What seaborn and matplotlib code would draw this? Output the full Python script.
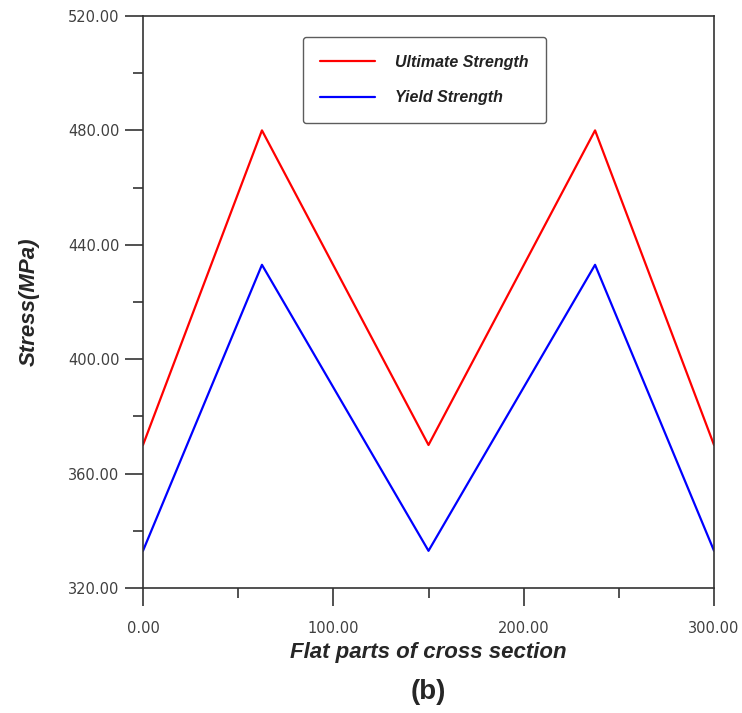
import matplotlib
matplotlib.use("Agg")
import matplotlib.pyplot as plt
from matplotlib.ticker import MultipleLocator, FormatStrFormatter
import pandas as pd
import seaborn as sns

# Positions along the cross section and the stresses measured there
position = [0.0, 62.5, 150.0, 237.5, 300.0]
ultimate_strength = [370.0, 480.0, 370.0, 480.0, 370.0]
yield_strength = [333.0, 433.0, 333.0, 433.0, 333.0]
series_names = ["Ultimate Strength", "Yield Strength"]

df = pd.concat([
    pd.DataFrame({"x": position, "stress": ultimate_strength, "series": series_names[0]}),
    pd.DataFrame({"x": position, "stress": yield_strength, "series": series_names[1]}),
], ignore_index=True)

sns.set_style("white")
plt.rcParams["font.family"] = ["Liberation Sans", "DejaVu Sans"]

fig = plt.figure(figsize=(7.42, 7.13), dpi=100)
ax = fig.add_axes([0.1927, 0.1753, 0.7696, 0.8023])

sns.lineplot(data=df, x="x", y="stress", hue="series", sort=False,
             palette={"Ultimate Strength": "#ff0000", "Yield Strength": "#0000ff"},
             linewidth=1.6, ax=ax, legend=True)

ax.set_xlim(0, 300)
ax.set_ylim(320, 520)
ax.xaxis.set_major_locator(MultipleLocator(100))
ax.xaxis.set_minor_locator(MultipleLocator(50))
ax.yaxis.set_major_locator(MultipleLocator(40))
ax.yaxis.set_minor_locator(MultipleLocator(20))
ax.xaxis.set_major_formatter(FormatStrFormatter("%.2f"))
ax.yaxis.set_major_formatter(FormatStrFormatter("%.2f"))

for side in ax.spines.values():
    side.set_color("#333333")
    side.set_linewidth(1.2)

ax.tick_params(axis="both", which="major", direction="out", length=13, width=1.2,
               color="#333333", labelsize=10.5, labelcolor="#404040",
               bottom=True, left=True)
ax.tick_params(axis="both", which="minor", direction="out", length=7, width=1.2,
               color="#333333", bottom=True, left=True)
ax.tick_params(axis="x", which="major", pad=11)
ax.tick_params(axis="y", which="major", pad=4)
for lab in ax.get_xticklabels() + ax.get_yticklabels():
    lab.set_family("DejaVu Sans")

ax.set_xlabel("Flat parts of cross section", fontsize=16, fontweight="bold",
              fontstyle="italic", labelpad=4)
ax.set_ylabel("Stress(MPa)", fontsize=16, fontweight="bold",
              fontstyle="italic", labelpad=20)

leg = ax.legend(title=None, loc="upper left", bbox_to_anchor=(0.28, 0.963),
                borderaxespad=0, frameon=True, fancybox=True, borderpad=1.1,
                handlelength=3.4, handletextpad=1.25, labelspacing=1.3,
                prop={"size": 11.5, "weight": "bold", "style": "italic"})
leg.get_frame().set_edgecolor("#333333")
leg.get_frame().set_linewidth(1.0)
for t in leg.get_texts():
    t.set_color("#222222")

fig.text(0.577, 0.029, "(b)", ha="center", va="center", fontsize=20,
         fontweight="bold")

fig.savefig("out.png", dpi=100)
